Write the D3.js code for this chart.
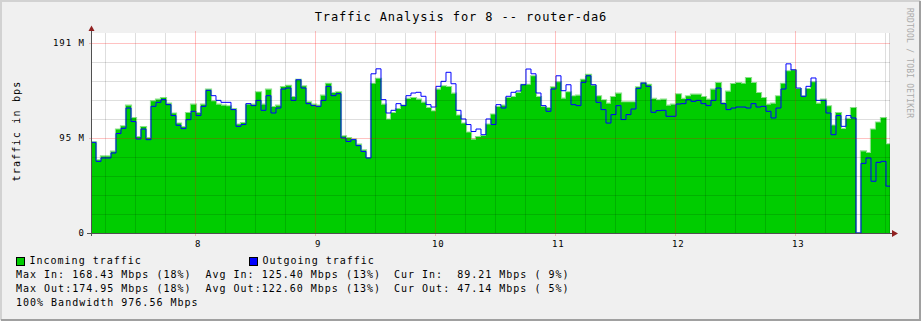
<!DOCTYPE html>
<html>
<head>
<meta charset="utf-8">
<script src="https://cdn.jsdelivr.net/npm/d3@7"></script>
<style>
  body { margin: 0; background: #f0f0f0; }
  svg text { font-family: "DejaVu Sans Mono", monospace; }
</style>
</head>
<body>
<svg id="main"></svg>
<script>
// traffic samples, Mbps, one every 2.5 minutes starting at startHour
const startHour = 7.1306;
const endHour = 13.789;
const stepMinutes = 2.5;

const incoming = [91, 73, 77, 77, 81.7, 104, 107.2, 128, 115.6, 96.5,
	106.5, 95.5, 132.3, 134, 135.7, 130, 120, 110, 106.5, 120.6,
	129, 120.6, 129, 144, 132.3, 129, 128, 127.3, 124.6, 109,
	110.5, 129, 129, 141.4, 129, 144, 126.6, 128, 146.7, 148,
	136.7, 154, 147.4, 131.3, 129, 128, 138, 150, 140.7, 141.4,
	97.2, 95.5, 93.8, 88.8, 83, 75.4, 150, 155, 129, 114,
	120.6, 124.6, 128, 134.7, 135.7, 134, 131, 125.6, 122.3, 144,
	147.4, 146.7, 140, 118, 110, 101, 93.8, 96.5, 97.5, 109,
	119, 126.6, 128, 135.7, 136.7, 140.7, 149, 149, 157.5, 136.7,
	126.6, 125.6, 146.4, 151.4, 135, 141.4, 137.4, 138, 154, 159,
	148, 137.4, 133.3, 130, 136.7, 140, 131.3, 131.3, 131.3, 146.4,
	150.7, 149, 134.7, 133.3, 134, 128, 129, 139.4, 134.7, 137.4,
	139, 139, 136.7, 134, 144, 150.7, 130.7, 142, 149.7, 150.7,
	150, 155.8, 150.7, 140.7, 135.7, 129, 130, 137.4, 150, 162.5,
	163.5, 144.7, 137.4, 144.7, 151.4, 130, 134, 127.3, 108, 120.6,
	104.5, 114.6, 125.6, 0, 82, 80.4, 104, 111, 115.6, 89.2];

const outgoing = [91.1, 72, 75.4, 75.4, 80.4, 100, 105.2, 125.6, 112, 94.5,
	104.5, 93.8, 127.3, 131.3, 134, 129, 118, 108.2, 104.9, 113.9,
	122.3, 118, 127.3, 143.4, 138, 133.3, 131.3, 131.3, 124, 107.2,
	109, 130, 128, 133.3, 123.3, 138, 120.6, 125.6, 144.7, 145.7,
	133.3, 154, 145.7, 130, 128, 127.3, 133.3, 147.4, 138, 140,
	95.5, 92, 93.8, 87.8, 82, 75.4, 160, 165, 134, 120.6,
	123.3, 130, 128, 138, 140.7, 141.4, 137.4, 129, 126.6, 147.4,
	152.4, 161.5, 150, 123.3, 114.6, 109, 102, 104.5, 98.8, 114.6,
	109, 129, 125.6, 137.4, 141.4, 142.7, 149, 164.8, 160, 140.7,
	128, 122.3, 144.7, 158, 143, 149, 129, 128, 151.4, 158,
	149, 131.3, 124, 110.5, 119, 128, 114, 119, 124.6, 145.4,
	150.7, 147.4, 121.3, 123, 123.3, 117.3, 117.3, 129.6, 130, 134,
	132.3, 133.3, 130, 128, 133.3, 145.7, 130, 124, 125.6, 126.6,
	126.6, 125.6, 130, 126.6, 127.3, 122.3, 115.6, 125.6, 144.7, 170,
	164, 145.7, 137.4, 147.4, 155.8, 133.3, 133.3, 120.6, 98.8, 118,
	107.2, 118, 115.6, 0, 70, 75.4, 52, 71, 72, 47.1];

const hourTicks = [8, 9, 10, 11, 12, 13];
const yTickValues = [0, 95.5, 191];
const yTickLabels = ["0", "95 M", "191 M"];
const yMax = 201;
const yMinorStep = 19.1;

const title = "Traffic Analysis for 8 -- router-da6";
const unitLabel = "traffic in bps";
const watermark = "RRDTOOL / TOBI OETIKER";
const legendNames = ["Incoming traffic", "Outgoing traffic"];
const legendColors = ["#00cc00", "#0000ff"];
const statsIn = ["Max In: 168.43 Mbps (18%)", "Avg In: 125.40 Mbps (13%)", "Cur In:  89.21 Mbps ( 9%)"];
const statsOut = ["Max Out:174.95 Mbps (18%)", "Avg Out:122.60 Mbps (13%)", "Cur Out: 47.14 Mbps ( 5%)"];
const bandwidthLine = "100% Bandwidth 976.56 Mbps";

const W = 921, H = 321;
const plot = {left: 91, right: 890, top: 33, bottom: 233};

const svg = d3.select("#main")
	.attr("width", W)
	.attr("height", H);

// background + frame
svg.append("rect").attr("width", W).attr("height", H).attr("fill", "#f0f0f0");
svg.append("path").attr("d", "M1,320V1H920").attr("fill", "none").attr("stroke", "#d2d2d2").attr("stroke-width", 2);
svg.append("path").attr("d", "M1,320H920V1").attr("fill", "none").attr("stroke", "#a0a0a0").attr("stroke-width", 2);

svg.append("rect")
	.attr("x", plot.left).attr("y", plot.top)
	.attr("width", plot.right - plot.left).attr("height", plot.bottom - plot.top)
	.attr("fill", "#ffffff");

const x = d3.scaleLinear().domain([startHour, endHour]).range([plot.left, plot.right]);
const y = d3.scaleLinear().domain([0, yMax]).range([plot.bottom, plot.top]);

const stepH = stepMinutes / 60;
const toPoints = (arr) => {
	const pts = arr.map((v, i) => ({t: startHour + i * stepH, v: v}));
	pts.push({t: startHour + arr.length * stepH, v: arr[arr.length - 1]});
	return pts;
};
const inPts = toPoints(incoming);
const outPts = toPoints(outgoing);

svg.append("clipPath").attr("id", "clip")
	.append("rect")
	.attr("x", plot.left + 1).attr("y", plot.top - 2)
	.attr("width", plot.right - plot.left - 1).attr("height", plot.bottom - plot.top + 2);

const g = svg.append("g").attr("clip-path", "url(#clip)");

const topLine = d3.line()
	.x(d => x(d.t)).y(d => y(d.v))
	.curve(d3.curveStepAfter);

// light fringe above the area
g.append("path")
	.attr("d", topLine(inPts))
	.attr("fill", "none")
	.attr("stroke", "#8be08b")
	.attr("stroke-width", 2.2);

g.append("path")
	.attr("d", d3.area()
		.x(d => x(d.t)).y0(y(0)).y1(d => y(d.v))
		.curve(d3.curveStepAfter)(inPts))
	.attr("fill", "#00cc00");

// grid on top of the area
const grid = svg.append("g");
const minorH = d3.range(1, 11).map(k => k * yMinorStep).filter((v, k) => (k + 1) % 5 !== 0);
grid.selectAll("line.hmin").data(minorH).enter().append("line")
	.attr("x1", plot.left).attr("x2", plot.right)
	.attr("y1", d => Math.round(y(d)) + 0.5).attr("y2", d => Math.round(y(d)) + 0.5)
	.attr("stroke", "rgba(0,0,0,0.13)");

const quarter = d3.range(Math.ceil(startHour * 4), Math.floor(endHour * 4) + 1)
	.map(q => q / 4).filter(t => t % 1 !== 0);
grid.selectAll("line.vmin").data(quarter).enter().append("line")
	.attr("x1", d => Math.round(x(d)) + 0.5).attr("x2", d => Math.round(x(d)) + 0.5)
	.attr("y1", plot.top).attr("y2", plot.bottom)
	.attr("stroke", "rgba(0,0,0,0.13)");

grid.selectAll("line.hmaj").data(yTickValues.slice(1)).enter().append("line")
	.attr("x1", plot.left - 2).attr("x2", plot.right)
	.attr("y1", d => Math.round(y(d)) + 0.5).attr("y2", d => Math.round(y(d)) + 0.5)
	.attr("stroke", "rgba(255,0,0,0.24)");

grid.selectAll("line.vmaj").data(hourTicks).enter().append("line")
	.attr("x1", d => Math.round(x(d)) + 0.5).attr("x2", d => Math.round(x(d)) + 0.5)
	.attr("y1", plot.top - 2).attr("y2", plot.bottom + 3)
	.attr("stroke", "rgba(255,0,0,0.24)");

// right edge line
grid.append("line")
	.attr("x1", plot.right - 0.5).attr("x2", plot.right - 0.5)
	.attr("y1", plot.top).attr("y2", plot.bottom)
	.attr("stroke", "rgba(0,0,0,0.15)");

// outgoing line
g.append("path")
	.attr("d", topLine(outPts))
	.attr("fill", "none")
	.attr("stroke", "#0000ff")
	.attr("stroke-width", 1);

// axes
svg.append("line")
	.attr("x1", plot.left + 0.5).attr("x2", plot.left + 0.5)
	.attr("y1", 29).attr("y2", plot.bottom + 3)
	.attr("stroke", "#505050");
svg.append("line")
	.attr("x1", plot.left - 4).attr("x2", 893)
	.attr("y1", plot.bottom + 0.5).attr("y2", plot.bottom + 0.5)
	.attr("stroke", "#505050");
svg.append("path").attr("d", "M88.5,31L91.5,25.5L94.5,31Z").attr("fill", "#902020");
svg.append("path").attr("d", "M892,230L898,233.5L892,237Z").attr("fill", "#902020");

// axis labels
svg.selectAll("text.ylab").data(yTickValues).enter().append("text")
	.attr("x", 85)
	.attr("y", d => y(d) + 3.3)
	.attr("text-anchor", "end")
	.attr("font-size", "9px")
	.attr("letter-spacing", "1px")
	.attr("fill", "#000")
	.text((d, i) => yTickLabels[i]);

svg.selectAll("text.xlab").data(hourTicks).enter().append("text")
	.attr("x", d => x(d) + 3)
	.attr("y", 247)
	.attr("text-anchor", "middle")
	.attr("font-size", "9px")
	.attr("letter-spacing", "1px")
	.attr("fill", "#000")
	.text(d => d);

svg.append("text")
	.attr("x", 461).attr("y", 21)
	.attr("text-anchor", "middle")
	.attr("font-size", "12px")
	.attr("letter-spacing", "0.9px")
	.attr("fill", "#000")
	.text(title);

svg.append("text")
	.attr("transform", "translate(19.5,131) rotate(-90)")
	.attr("text-anchor", "middle")
	.attr("font-size", "10px")
	.attr("letter-spacing", "1.2px")
	.attr("fill", "#000")
	.text(unitLabel);

svg.append("text")
	.attr("transform", "translate(907,8) rotate(90)")
	.attr("font-size", "8px")
	.attr("letter-spacing", "0.2px")
	.attr("fill", "#aaaaaa")
	.text(watermark);

// legend
const legendX = [16.5, 249.5];
legendNames.forEach((name, i) => {
	svg.append("rect")
		.attr("x", legendX[i]).attr("y", 257.5)
		.attr("width", 8).attr("height", 8)
		.attr("fill", legendColors[i])
		.attr("stroke", "#000");
	svg.append("text")
		.attr("x", legendX[i] + 13).attr("y", 264)
		.attr("font-size", "10px")
		.attr("letter-spacing", "1px")
		.attr("fill", "#000")
		.text(name);
});

const colX = [16, 205.5, 394];
[statsIn, statsOut].forEach((row, r) => {
	row.forEach((s, c) => {
		svg.append("text")
			.attr("x", colX[c]).attr("y", 278 + r * 14)
			.attr("font-size", "10px")
			.attr("letter-spacing", "1px")
			.attr("fill", "#000")
			.style("white-space", "pre")
			.text(s);
	});
});
svg.append("text")
	.attr("x", 16).attr("y", 306)
	.attr("font-size", "10px")
	.attr("letter-spacing", "1px")
	.attr("fill", "#000")
	.style("white-space", "pre")
	.text(bandwidthLine);
</script>
</body>
</html>
